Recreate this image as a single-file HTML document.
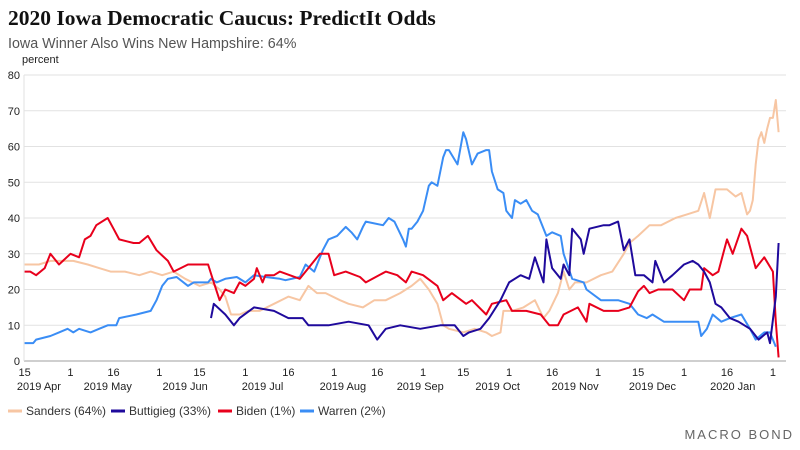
<!DOCTYPE html>
<html><head><meta charset="utf-8"><style>
body{margin:0;background:#fff;}
svg{display:block;font-family:"Liberation Sans",sans-serif;}
</style></head><body>
<svg id="chart" width="800" height="450">
<text x="8" y="25" font-family="Liberation Serif,serif" font-weight="bold" font-size="21.5" fill="#111">2020 Iowa Democratic Caucus: PredictIt Odds</text>
<text x="8" y="48" font-size="14.3" fill="#555">Iowa Winner Also Wins New Hampshire: 64%</text>
<text x="22" y="63" font-size="11" fill="#222">percent</text>
<g id="grid"></g><g id="series"></g><g id="xaxis"></g>
<g font-size="12" fill="#333">
<line x1="8" y1="411" x2="22" y2="411" stroke="#f7c6a3" stroke-width="3"/><text x="26" y="415">Sanders (64%)</text>
<line x1="111" y1="411" x2="125" y2="411" stroke="#1f0a9c" stroke-width="3"/><text x="129" y="415">Buttigieg (33%)</text>
<line x1="218" y1="411" x2="232" y2="411" stroke="#e8001c" stroke-width="3"/><text x="236" y="415">Biden (1%)</text>
<line x1="300" y1="411" x2="314" y2="411" stroke="#3a8df5" stroke-width="3"/><text x="318" y="415">Warren (2%)</text>
</g>
<text x="794" y="439" text-anchor="end" font-size="13" fill="#666" letter-spacing="2">MACRO BOND</text>
</svg>
<script>
const yTicks=[0,10,20,30,40,50,60,70,80];
const xTickDays=[0,16,31,47,61,77,92,108,123,139,153,169,184,200,214,230,245,261];
const xTickLabels=["15","1","16","1","15","1","16","1","16","1","15","1","16","1","15","1","16","1"];
const monthDays=[5,29,56,83,111,138,165,192,219,247];
const monthLabels=["2019 Apr","2019 May","2019 Jun","2019 Jul","2019 Aug","2019 Sep","2019 Oct","2019 Nov","2019 Dec","2020 Jan"];
const sandersDays=[0,5,9,17,22,26,30,35,40,44,48,52,56,61,65,68,70,72,75,78,82,87,92,96,99,102,105,110,113,118,122,126,131,135,138,141,144,146,148,153,157,161,163,166,167,170,174,178,181,183,186,188,190,192,196,201,205,209,211,214,218,222,227,231,235,237,239,241,245,248,250,252,253,254,255,256,257,258,259,260,261,262,263];
const sandersVals=[27,27,28,28,27,26,25,25,24,25,24,25,23,21,22,20,18,13,13,14,14,16,18,17,21,19,19,17,16,15,17,17,19,21,23,20,16,10,9,8,9,8,7,8,14,14,15,17,12,14,19,25,20,22,22,24,25,30,33,35,38,38,40,41,42,47,40,48,48,46,47,41,42,45,55,62,64,61,65,68,68,73,64];
const buttigiegDays=[65,66,70,73,75,80,87,92,97,99,106,113,120,123,126,131,138,145,150,153,155,159,162,166,169,173,176,178,181,182,184,187,188,190,191,194,195,197,202,204,207,209,211,213,216,219,220,223,226,230,233,235,237,239,241,243,246,249,253,256,259,260,262,263];
const buttigiegVals=[12,16,13,10,12,15,14,12,12,10,10,11,10,6,9,10,9,10,10,7,8,9,12,17,22,24,23,29,22,34,26,23,27,24,37,34,30,37,38,38,39,31,34,24,24,22,28,22,24,27,28,27,25,22,16,15,12,11,9,6,8,5,18,33];
const bidenDays=[0,2,4,7,9,12,16,19,21,23,25,29,31,33,38,40,43,46,50,52,57,64,66,68,70,73,75,77,80,81,83,84,87,89,96,101,103,106,108,112,117,119,126,130,133,135,139,144,146,149,154,156,161,163,168,170,175,180,183,186,188,193,196,197,202,207,211,214,216,218,221,226,230,232,236,237,240,242,245,247,250,252,255,258,261,262,263];
const bidenVals=[25,25,24,26,30,27,30,29,34,35,38,40,37,34,33,33,35,31,28,25,27,27,22,17,20,19,22,21,23,26,22,24,24,25,23,28,30,30,24,25,23.5,22,25,24,22,25,24,21,17,19,16,17,13,16,17,14,14,13,10,10,13,15,11,16,14,14,15,19.5,21,19,20,20,17,20,20,26,24,25,34,30,37,35,26,29,25,11,1];
const warrenDays=[0,3,4,9,12,15,17,19,23,26,29,32,33,39,44,46,48,50,53,57,59,64,65,67,70,74,77,80,84,89,91,96,98,101,104,106,109,112,114,116,118,119,125,127,129,132,133,134,135,137,139,141,142,144,146,147,148,151,153,154,156,158,161,162,163,165,167,168,170,171,173,175,177,179,182,184,187,188,191,195,196,201,203,207,211,214,217,219,223,228,231,235,236,238,240,243,246,250,253,255,258,260,262];
const warrenVals=[5,5,6,7,8,9,8,9,8,9,10,10,12,13,14,17,21,23,23.5,21,22,22,23,22,23,23.5,22,24,23.5,23,22.6,23.5,27,25,31,34,35,37.5,36,34,37.5,39,38,40,39,34,32,37,37,39,42,49,50,49,57,59,59,55,64,62,55,58,59,59,53,48,47,42,40,45,44,45,42,41,35,36,35,30,23,22,20,17,17,17,16,13,12,13,11,11,11,11,7,9,13,11,12,13,9,6,8,8,4];
const X0=24.6,PXD=2.867,Y0=361,PXV=3.575;
const xs=d=>X0+d*PXD, ys=v=>Y0-v*PXV;
const NS="http://www.w3.org/2000/svg";
function mk(tag,attrs,parent){const e=document.createElementNS(NS,tag);for(const k in attrs)e.setAttribute(k,attrs[k]);parent.appendChild(e);return e;}
const grid=document.getElementById('grid');
yTicks.forEach(v=>{
  if(v>0){const l=mk('line',{x1:24,x2:786,y1:ys(v),y2:ys(v),stroke:'#e2e2e2','stroke-width':1},grid);
  
  }
  const t=mk('text',{x:20,y:ys(v)+4,'text-anchor':'end','font-size':11,fill:'#222'},grid);t.textContent=v;
  
  
});
const ax=document.getElementById('xaxis');
const al=mk('line',{x1:24,x2:786,y1:Y0,y2:Y0,stroke:'#cfcfcf','stroke-width':2},ax);


const yl=mk('line',{x1:24,x2:24,y1:75,y2:Y0,stroke:'#e2e2e2','stroke-width':1},ax);


xTickDays.forEach((d,i)=>{const t=mk('text',{x:xs(d),y:376,'text-anchor':'middle','font-size':11,fill:'#222'},ax);t.textContent=xTickLabels[i];
  
  });
monthDays.forEach((d,i)=>{const t=mk('text',{x:xs(d),y:390,'text-anchor':'middle','font-size':11,fill:'#222'},ax);t.textContent=monthLabels[i];
  
  });
const sg=document.getElementById('series');
function line(days,vals,color,name){
  const n=Math.min(days.length,vals.length);
  const pts=days.slice(0,n).map((d,i)=>xs(d).toFixed(1)+','+ys(vals[i]).toFixed(1)).join(' ');
  const p=mk('polyline',{points:pts,fill:'none',stroke:color,'stroke-width':2,'stroke-linejoin':'round'},sg);
  
  
}
line(sandersDays,sandersVals,'#f7c6a3','sanders-line');
line(warrenDays,warrenVals,'#3a8df5','warren-line');
line(bidenDays,bidenVals,'#e8001c','biden-line');
line(buttigiegDays,buttigiegVals,'#1f0a9c','buttigieg-line');
</script>
</body></html>
